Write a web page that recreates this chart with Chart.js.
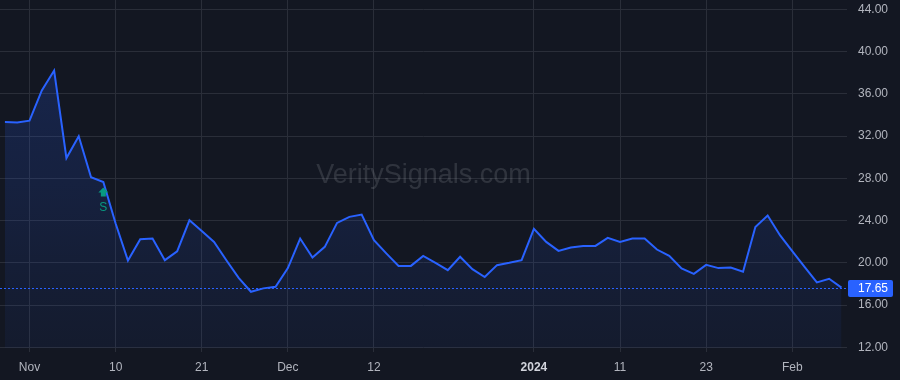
<!DOCTYPE html>
<html><head><meta charset="utf-8">
<script src="https://cdn.jsdelivr.net/npm/chart.js@4/dist/chart.umd.min.js"></script>
<style>html,body{margin:0;padding:0;background:#131722;overflow:hidden}#wrap{width:900px;height:380px;position:relative}</style>
</head><body><div id="wrap"><canvas id="c" width="900" height="380"></canvas></div>
<script>
const dates = ['Oct 30','Oct 31','Nov 1','Nov 2','Nov 3','Nov 6','Nov 7','Nov 8','Nov 9','Nov 10',
  'Nov 13','Nov 14','Nov 15','Nov 16','Nov 17','Nov 20','Nov 21','Nov 22','Nov 24','Nov 27',
  'Nov 28','Nov 29','Nov 30','Dec 1','Dec 4','Dec 5','Dec 6','Dec 7','Dec 8','Dec 11',
  'Dec 12','Dec 13','Dec 14','Dec 15','Dec 18','Dec 19','Dec 20','Dec 21','Dec 22','Dec 26',
  'Dec 27','Dec 28','Dec 29','Jan 2','Jan 3','Jan 4','Jan 5','Jan 8','Jan 9','Jan 10',
  'Jan 11','Jan 12','Jan 16','Jan 17','Jan 18','Jan 19','Jan 22','Jan 23','Jan 24','Jan 25',
  'Jan 26','Jan 29','Jan 30','Jan 31','Feb 1','Feb 2','Feb 5','Feb 6','Feb 7'];
const values = [33.33,33.30,33.46,36.32,38.21,29.92,31.98,28.10,27.66,23.72,
  20.22,22.24,22.30,20.25,21.08,24.03,23.02,21.98,20.25,18.58,
  17.26,17.58,17.73,19.50,22.30,20.51,21.51,23.78,24.35,24.57,
  22.14,20.89,19.71,19.71,20.66,20.00,19.31,20.57,19.40,18.65,
  19.78,20.00,20.25,23.21,21.98,21.13,21.45,21.60,21.60,22.36,
  21.98,22.30,22.30,21.26,20.66,19.47,18.96,19.81,19.50,19.56,
  19.15,23.40,24.48,22.62,21.10,19.62,18.14,18.49,17.65];
const tickDates = ['Nov 1','Nov 10','Nov 21','Dec 1','Dec 12','Jan 2','Jan 11','Jan 23','Feb 1'];
const tickLabels = ['Nov','10','21','Dec','12','2024','11','23','Feb'];
const boldTickLabels = ['2024'];
const yTickValues = [12,16,20,24,28,32,36,40,44];
const lastPrice = 17.65;
const signalDate = 'Nov 9';
const signalText = 'S';
const watermarkText = 'VeritySignals.com';

const FONT = "'Liberation Sans', Arial, sans-serif";
const tickIdx = tickDates.map(d => dates.indexOf(d));
const points = values.map((v, i) => ({x: i, y: v}));
const isBold = (c) => !!(c && c.tick) && boldTickLabels.includes(tickLabels[tickIdx.indexOf(c.tick.value)]);

const bgPlugin = {
  id: 'bg',
  beforeDraw(chart) {
    const ctx = chart.ctx;
    ctx.save();
    ctx.fillStyle = '#131722';
    ctx.fillRect(0, 0, chart.width, chart.height);
    ctx.restore();
  }
};
const watermarkPlugin = {
  id: 'wm',
  beforeDatasetsDraw(chart) {
    const ctx = chart.ctx;
    ctx.save();
    ctx.font = '27px ' + FONT;
    ctx.fillStyle = 'rgba(178,181,190,0.18)';
    ctx.textAlign = 'center';
    ctx.textBaseline = 'alphabetic';
    ctx.fillText(watermarkText, 423.5, 183);
    ctx.restore();
  }
};
const overlayPlugin = {
  id: 'overlay',
  afterDraw(chart) {
    const ctx = chart.ctx, xs = chart.scales.x, ys = chart.scales.y, ca = chart.chartArea;
    const py = Math.round(ys.getPixelForValue(lastPrice)) + 0.5;
    ctx.save();
    ctx.strokeStyle = '#2962FF';
    ctx.lineWidth = 1;
    ctx.setLineDash([2, 2]);
    ctx.beginPath();
    ctx.moveTo(ca.left, py);
    ctx.lineTo(ca.right, py);
    ctx.stroke();
    ctx.setLineDash([]);
    ctx.fillStyle = '#2962FF';
    const bx = ca.right + 1, bw = 45, bh = 17;
    ctx.beginPath();
    if (ctx.roundRect) ctx.roundRect(bx, py - bh / 2, bw, bh, 2); else ctx.rect(bx, py - bh / 2, bw, bh);
    ctx.fill();
    ctx.fillStyle = '#ffffff';
    ctx.font = '12px ' + FONT;
    ctx.textAlign = 'left';
    ctx.textBaseline = 'middle';
    ctx.fillText(lastPrice.toFixed(2), ca.right + 11, py + 0.5);
    const si = dates.indexOf(signalDate);
    const sx = xs.getPixelForValue(si);
    const sy = ys.getPixelForValue(values[si]);
    const top = sy + 5.5;
    ctx.fillStyle = '#089981';
    ctx.beginPath();
    ctx.moveTo(sx, top);
    ctx.lineTo(sx + 5, top + 5);
    ctx.lineTo(sx + 2.5, top + 5);
    ctx.lineTo(sx + 2.5, top + 9);
    ctx.lineTo(sx - 2.5, top + 9);
    ctx.lineTo(sx - 2.5, top + 5);
    ctx.lineTo(sx - 5, top + 5);
    ctx.closePath();
    ctx.fill();
    ctx.font = '12px ' + FONT;
    ctx.textAlign = 'center';
    ctx.textBaseline = 'middle';
    ctx.fillText(signalText, sx, sy + 25.5);
    ctx.restore();
  }
};

new Chart(document.getElementById('c'), {
  type: 'line',
  data: {
    datasets: [{
      data: points,
      borderColor: '#2962FF',
      borderWidth: 2,
      pointRadius: 0,
      tension: 0,
      fill: {value: 11.95},
      backgroundColor: (c) => {
        const ca = c.chart.chartArea;
        if (!ca) return 'rgba(41,98,255,0.1)';
        const g = c.chart.ctx.createLinearGradient(0, ca.top, 0, ca.bottom);
        g.addColorStop(0, 'rgba(41,98,255,0.22)');
        g.addColorStop(1, 'rgba(41,98,255,0.05)');
        return g;
      }
    }]
  },
  options: {
    responsive: false,
    devicePixelRatio: 1,
    animation: false,
    layout: {padding: 0},
    plugins: {legend: {display: false}, tooltip: {enabled: false}},
    scales: {
      x: {
        type: 'linear',
        min: -0.4,
        max: 68.45,
        afterBuildTicks: (s) => { s.ticks = tickIdx.map(v => ({value: v})); },
        afterFit: (s) => { s.height = 28; s.paddingLeft = 0; s.paddingRight = 0; },
        border: {display: false},
        grid: {color: '#2a2e39', drawTicks: false, lineWidth: 1},
        ticks: {
          autoSkip: false,
          maxRotation: 0,
          padding: 8,
          color: (c) => isBold(c) ? '#d1d4dc' : '#b2b5be',
          font: (c) => ({family: FONT, size: 12, weight: isBold(c) ? 'bold' : 'normal'}),
          callback: (v) => { const k = tickIdx.indexOf(v); return k >= 0 ? tickLabels[k] : ''; }
        }
      },
      y: {
        type: 'linear',
        position: 'right',
        min: 11.555,
        max: 44.89,
        afterBuildTicks: (s) => { s.ticks = yTickValues.map(v => ({value: v})); },
        afterFit: (s) => { s.width = 53; s.paddingTop = 0; s.paddingBottom = 0; },
        border: {display: false},
        grid: {color: '#2a2e39', drawTicks: false, lineWidth: 1},
        ticks: {
          padding: 11,
          color: '#b2b5be',
          font: {family: FONT, size: 12},
          callback: (v) => Number(v).toFixed(2)
        }
      }
    }
  },
  plugins: [bgPlugin, watermarkPlugin, overlayPlugin]
});
</script>
</body></html>
